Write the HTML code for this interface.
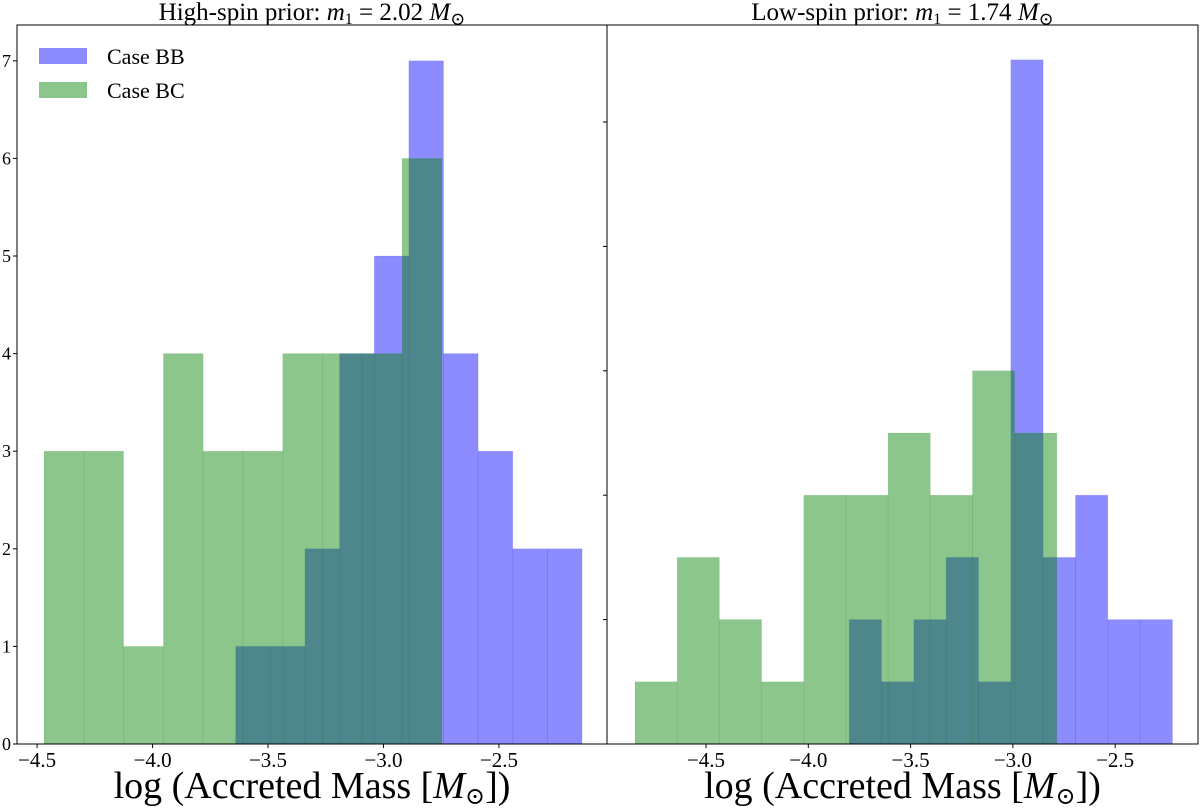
<!DOCTYPE html>
<html><head><meta charset="utf-8"><style>
body{margin:0;background:#fff;}
svg{display:block;font-family:"Liberation Serif","DejaVu Serif",serif;}
</style></head><body>
<svg id="chart" width="1200" height="809" xmlns="http://www.w3.org/2000/svg"></svg>
<script>
// Left panel data (counts)
const leftGreenStart = -4.47, leftGreenWidth = 0.1723;
const leftGreenCounts = [3,3,1,4,3,3,4,4,4,6];
const leftBlueStart = -3.64, leftBlueWidth = 0.150;
const leftBlueCounts = [1,1,2,4,5,7,4,3,2,2];
const leftYTicks = [0,1,2,3,4,5,6,7];
const leftXTicks = [-4.5,-4.0,-3.5,-3.0,-2.5];
// Right panel data (density, in half-tick units)
const rightGreenStart = -4.847, rightGreenWidth = 0.2062;
const rightGreenValues = [1,3,2,1,4,4,5,4,6,5];
const rightBlueStart = -3.80, rightBlueWidth = 0.158;
const rightBlueValues = [2,1,2,3,1,11,3,4,2,2];
const rightYTicks = [0,2,4,6,8,10];
const rightXTicks = [-4.5,-4.0,-3.5,-3.0,-2.5];

const NS="http://www.w3.org/2000/svg";
const svg=document.getElementById('chart');
function mk(tag,attrs,parent){const e=document.createElementNS(NS,tag);for(const k in attrs)e.setAttribute(k,attrs[k]);(parent||svg).appendChild(e);return e;}

function panel(cfg){
  const g=mk('g',{});
  
  
  const xs=v=>cfg.x0+(v-cfg.xmin)/(cfg.xmax-cfg.xmin)*(cfg.x1-cfg.x0);
  const ys=v=>cfg.yb-v*cfg.yunit;
  const drawBars=(start,w,vals,color,nm)=>{
    vals.forEach((v,i)=>{
      if(v<=0)return;
      const xa=xs(start+i*w), xb=xs(start+(i+1)*w);
      const r=mk('rect',{x:xa,y:ys(v),width:xb-xa,height:ys(0)-ys(v),fill:color,'fill-opacity':0.45,stroke:color,'stroke-opacity':0.08,'stroke-width':1},g);
      
      
    });
  };
  drawBars(cfg.bStart,cfg.bW,cfg.bVals,'#0000ff','case-bb');
  drawBars(cfg.gStart,cfg.gW,cfg.gVals,'#008000','case-bc');
  const fr=mk('rect',{x:cfg.x0,y:cfg.yt,width:cfg.x1-cfg.x0,height:cfg.yb-cfg.yt,fill:'none',stroke:'#000','stroke-width':1},g);
  
  
  cfg.yTicks.forEach(t=>{
    const y=ys(t);
    mk('line',{x1:cfg.x0-4,x2:cfg.x0,y1:y,y2:y,stroke:'#000','stroke-width':1},g);
    if(cfg.yLabels){
      const tx=mk('text',{x:cfg.x0-6,y:y+6,'text-anchor':'end','font-size':18},g);
      tx.textContent=t;
      
      
    }
  });
  cfg.xTicks.forEach(t=>{
    const x=xs(t);
    mk('line',{x1:x,x2:x,y1:cfg.yb,y2:cfg.yb+4,stroke:'#000','stroke-width':1},g);
    const tx=mk('text',{x:x,y:cfg.yb+23,'text-anchor':'middle','font-size':21},g);
    tx.textContent='\u2212'+Math.abs(t).toFixed(1);
    
    
  });
  const cx=(cfg.x0+cfg.x1)/2;
  const ti=mk('text',{x:cx,y:20,'text-anchor':'middle','font-size':25},g);
  ti.innerHTML=cfg.title;
  
  
  const xl=mk('text',{x:cx,y:798,'text-anchor':'middle','font-size':38},g);
  xl.innerHTML='log (Accreted Mass [<tspan font-style="italic">M</tspan><tspan font-size="24" dy="6">⊙</tspan><tspan dy="-6">])</tspan>';
  
  
}

panel({name:'left-panel',x0:17,x1:607,yt:25,yb:744,xmin:-4.587,xmax:-2.032,yunit:97.6,
  gStart:leftGreenStart,gW:leftGreenWidth,gVals:leftGreenCounts,
  bStart:leftBlueStart,bW:leftBlueWidth,bVals:leftBlueCounts,
  yTicks:leftYTicks,yLabels:true,xTicks:leftXTicks,
  title:'High-spin prior: <tspan font-style="italic">m</tspan><tspan font-size="16" dy="4">1</tspan><tspan dy="-4"> = 2.02 </tspan><tspan font-style="italic">M</tspan><tspan font-size="18" dy="5">⊙</tspan>'});
panel({name:'right-panel',x0:607,x1:1198,yt:25,yb:744,xmin:-4.984,xmax:-2.095,yunit:62.2,
  gStart:rightGreenStart,gW:rightGreenWidth,gVals:rightGreenValues,
  bStart:rightBlueStart,bW:rightBlueWidth,bVals:rightBlueValues,
  yTicks:rightYTicks,yLabels:false,xTicks:rightXTicks,
  title:'Low-spin prior: <tspan font-style="italic">m</tspan><tspan font-size="16" dy="4">1</tspan><tspan dy="-4"> = 1.74 </tspan><tspan font-style="italic">M</tspan><tspan font-size="18" dy="5">⊙</tspan>'});

// legend
const lg=mk('g',{});


[['Case BB','#0000ff',48],['Case BC','#008000',82]].forEach(([lab,c,y])=>{
  const e=mk('g',{},lg);
  
  
  mk('rect',{x:39,y:y,width:48,height:16,fill:c,'fill-opacity':0.45},e);
  const t=mk('text',{x:107,y:y+16,'font-size':22},e);
  t.textContent=lab;
});
</script>
</body></html>
